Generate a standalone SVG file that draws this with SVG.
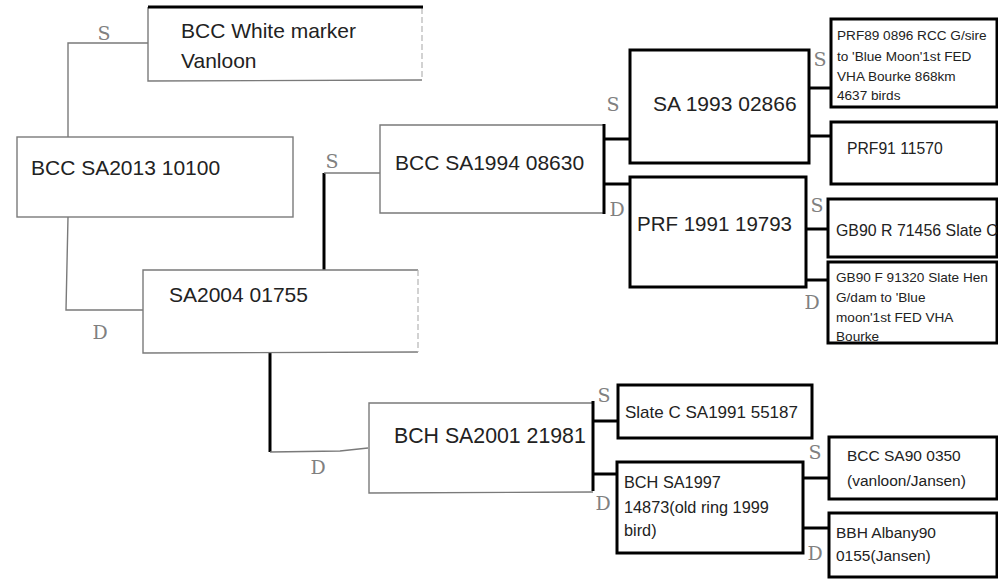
<svg xmlns="http://www.w3.org/2000/svg" width="998" height="580" viewBox="0 0 998 580">
<style>
.bg{fill:#fff}
.hand{fill:none;stroke:#7a7a7a;stroke-width:1.4}
.faint{fill:none;stroke:#b5b5b5;stroke-width:1.2;stroke-dasharray:6 3}
.thick{fill:none;stroke:#000;stroke-width:3}
.box{fill:#fff;stroke:#000;stroke-width:3}
.t{font-family:"Liberation Sans",Arial,sans-serif;fill:#222}
.lbl{font-family:"DejaVu Serif",serif;fill:#808080;font-size:19px;text-anchor:middle}
</style>
<rect class="bg" x="0" y="0" width="998" height="580"/>

<g id="connectors">
  <polyline class="hand" points="148,43 68,43 68,137"/>
  <polyline class="hand" points="68,217 66,310 143,310"/>
  <line class="thick" x1="324" y1="270" x2="324" y2="173"/>
  <line class="hand" x1="324" y1="173" x2="380" y2="173"/>
  <line class="thick" x1="270" y1="353" x2="270" y2="452"/>
  <polyline class="hand" points="270,452 340,451 368,448"/>
  <line class="thick" x1="604" y1="139" x2="630" y2="139"/>
  <line class="thick" x1="604" y1="184" x2="630" y2="184"/>
  <line class="thick" x1="809" y1="88" x2="831" y2="88"/>
  <line class="thick" x1="809" y1="136" x2="831" y2="136"/>
  <line class="thick" x1="806" y1="229" x2="828" y2="229"/>
  <line class="thick" x1="806" y1="280" x2="828" y2="280"/>
  <line class="thick" x1="593" y1="421" x2="617" y2="421"/>
  <line class="thick" x1="593" y1="474" x2="617" y2="474"/>
  <line class="thick" x1="803" y1="478" x2="829" y2="478"/>
  <line class="thick" x1="803" y1="528" x2="829" y2="528"/>
</g>

<g id="labels">
  <text class="lbl" x="104" y="40">S</text>
  <text class="lbl" x="100" y="339">D</text>
  <text class="lbl" x="332" y="168">S</text>
  <text class="lbl" x="318" y="474">D</text>
  <text class="lbl" x="613" y="111">S</text>
  <text class="lbl" x="617" y="216">D</text>
  <text class="lbl" x="820" y="66">S</text>
  <text class="lbl" x="817" y="212">S</text>
  <text class="lbl" x="812" y="309">D</text>
  <text class="lbl" x="604" y="402">S</text>
  <text class="lbl" x="603" y="510">D</text>
  <text class="lbl" x="815" y="459">S</text>
  <text class="lbl" x="815" y="560">D</text>
</g>

<g id="n-white-marker">
  <polyline class="hand" points="148,7 148,81 422,80"/>
  <line class="faint" x1="422" y1="8" x2="422" y2="80"/>
  <line class="thick" x1="148" y1="7" x2="423" y2="7"/>
  <text class="t" x="181" y="38" font-size="21">BCC White marker</text>
  <text class="t" x="181" y="68" font-size="21">Vanloon</text>
</g>

<g id="n-sa2013">
  <rect class="hand" x="17" y="137" width="276" height="80"/>
  <text class="t" x="31" y="175" font-size="21">BCC SA2013 10100</text>
</g>

<g id="n-sa2004">
  <polyline class="hand" points="418,270 143,270 143,353 418,352"/>
  <line class="faint" x1="418" y1="270" x2="418" y2="352"/>
  <text class="t" x="169" y="302" font-size="21">SA2004 01755</text>
</g>

<g id="n-sa1994">
  <polyline class="hand" points="604,125 380,125 380,213 604,213"/>
  <line class="thick" x1="604" y1="124" x2="604" y2="214"/>
  <text class="t" x="395" y="170" font-size="21">BCC SA1994 08630</text>
</g>

<g id="n-sa1993">
  <rect class="box" x="630" y="50" width="179" height="113"/>
  <text class="t" x="653" y="111" font-size="21">SA 1993 02866</text>
</g>

<g id="n-prf1991">
  <rect class="box" x="630" y="177" width="176" height="110"/>
  <text class="t" x="637" y="231" font-size="20.5">PRF 1991 19793</text>
</g>

<g id="n-prf89">
  <rect class="box" x="831" y="19" width="166" height="88"/>
  <text class="t" x="837" y="40" font-size="13.6">PRF89 0896 RCC G/sire</text>
  <text class="t" x="837" y="61" font-size="13.6">to 'Blue Moon'1st FED</text>
  <text class="t" x="837" y="81" font-size="13.6">VHA Bourke 868km</text>
  <text class="t" x="837" y="100" font-size="13.6">4637 birds</text>
</g>

<g id="n-prf91">
  <rect class="box" x="831" y="122" width="166" height="62"/>
  <text class="t" x="847" y="154" font-size="15.7">PRF91 11570</text>
</g>

<g id="n-gb90r">
  <rect class="box" x="828" y="199" width="169" height="58"/>
  <text class="t" x="836" y="236" font-size="15.9">GB90 R 71456 Slate C</text>
</g>

<g id="n-gb90f">
  <rect class="box" x="828" y="262" width="169" height="81"/>
  <text class="t" x="836" y="282" font-size="13.6">GB90 F 91320 Slate Hen</text>
  <text class="t" x="836" y="302" font-size="13.6">G/dam to 'Blue</text>
  <text class="t" x="836" y="322" font-size="13.6">moon'1st FED VHA</text>
  <text class="t" x="836" y="341" font-size="13.6">Bourke</text>
</g>

<g id="n-bch2001">
  <polyline class="hand" points="593,403 369,403 369,493 593,492"/>
  <line class="thick" x1="593" y1="401" x2="593" y2="491"/>
  <text class="t" x="394" y="443" font-size="21.3">BCH SA2001 21981</text>
</g>

<g id="n-slatec">
  <rect class="box" x="618" y="385" width="194" height="53"/>
  <text class="t" x="625" y="418" font-size="17">Slate C SA1991 55187</text>
</g>

<g id="n-bch1997">
  <rect class="box" x="617" y="462" width="186" height="91"/>
  <text class="t" x="624" y="488" font-size="16.3">BCH SA1997</text>
  <text class="t" x="624" y="513" font-size="16.3">14873(old ring 1999</text>
  <text class="t" x="624" y="536" font-size="16.3">bird)</text>
</g>

<g id="n-sa90">
  <rect class="box" x="829" y="437" width="168" height="62"/>
  <text class="t" x="847" y="461" font-size="15.5">BCC SA90 0350</text>
  <text class="t" x="847" y="486" font-size="15.5">(vanloon/Jansen)</text>
</g>

<g id="n-albany">
  <rect class="box" x="829" y="513" width="168" height="64"/>
  <text class="t" x="836" y="538" font-size="15.5">BBH Albany90</text>
  <text class="t" x="836" y="561" font-size="15.5">0155(Jansen)</text>
</g>
</svg>
